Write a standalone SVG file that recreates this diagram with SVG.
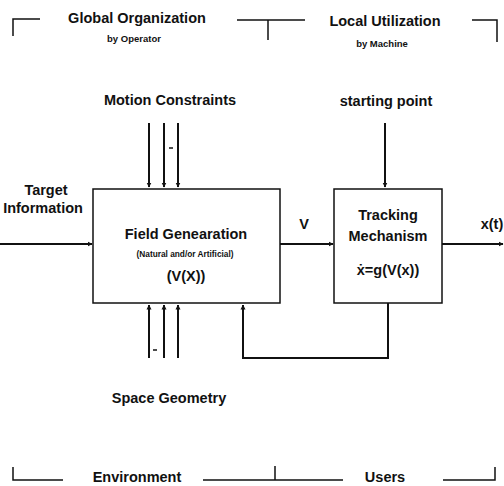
<svg xmlns="http://www.w3.org/2000/svg" width="504" height="486" viewBox="0 0 504 486">
<defs>
<marker id="ah" viewBox="0 0 10 10" refX="9" refY="5" markerWidth="5" markerHeight="6" orient="auto" markerUnits="userSpaceOnUse">
<path d="M0,0 L10,5 L0,10 z" fill="#111"/>
</marker>
<style>
text{font-family:"Liberation Sans",Arial,sans-serif;fill:#111;text-anchor:middle}
.t{font-size:14.5px;font-weight:bold}
.s{font-size:9.5px;font-weight:bold}
.xs{font-size:8.3px;font-weight:bold}
.ln{stroke:#111;stroke-width:1.5;fill:none}
.bx{stroke:#111;stroke-width:1.5;fill:#fff}
.ar{stroke:#111;stroke-width:2;fill:none}
</style>
</defs>
<rect width="504" height="486" fill="#fff"/>
<g id="frame">
<path class="ln" d="M13,36 V19 H40"/>
<path class="ln" d="M237,20 H305 M268,20 V40"/>
<path class="ln" d="M472,20 H497 V42"/>
<path class="ln" d="M13,467 V480 H63"/>
<path class="ln" d="M203,480 H343 M275,466 V480"/>
<path class="ln" d="M443,480 H495 V467"/>
<text class="t" x="137" y="23">Global Organization</text>
<text class="s" x="134" y="42">by Operator</text>
<text class="t" x="385" y="26">Local Utilization</text>
<text class="s" x="382" y="47">by Machine</text>
<text class="t" x="137" y="482">Environment</text>
<text class="t" x="385" y="482">Users</text>
</g>
<g id="field">
<rect class="bx" x="93" y="189" width="187" height="114"/>
<text class="t" x="186" y="239">Field Genearation</text>
<text class="xs" x="185" y="257">(Natural and/or Artificial)</text>
<text class="t" x="186" y="281">(V(X))</text>
</g>
<g id="tracking">
<rect class="bx" x="334" y="189" width="108" height="114"/>
<text class="t" x="388" y="220">Tracking</text>
<text class="t" x="388" y="241">Mechanism</text>
<text class="t" x="388" y="275">ẋ=g(V(x))</text>
</g>
<g id="labels">
<text class="t" x="46" y="195">Target</text>
<text class="t" x="43" y="213">Information</text>
<text class="t" x="170" y="105">Motion Constraints</text>
<text class="t" x="386" y="106">starting point</text>
<text class="t" x="169" y="403">Space Geometry</text>
<text class="t" x="304" y="229">V</text>
<text class="t" x="492" y="229">x(t)</text>
</g>
<g id="connectors">
<path class="ar" d="M0,244 H92" marker-end="url(#ah)"/>
<path class="ar" d="M280,244 H333" marker-end="url(#ah)"/>
<path class="ar" d="M442,244 H503" marker-end="url(#ah)"/>
<path class="ar" d="M149,123 V187" marker-end="url(#ah)"/>
<path class="ar" d="M164,123 V187" marker-end="url(#ah)"/>
<path class="ar" d="M178,123 V187" marker-end="url(#ah)"/>
<path class="ln" d="M169,148 H173" stroke-width="1"/>
<path class="ar" d="M385,123 V187" marker-end="url(#ah)"/>
<path class="ar" d="M149,358 V305" marker-end="url(#ah)"/>
<path class="ar" d="M164,358 V305" marker-end="url(#ah)"/>
<path class="ar" d="M178,358 V305" marker-end="url(#ah)"/>
<path class="ln" d="M153,350 H157" stroke-width="1"/>
<path class="ar" d="M388,303 V358 H243 V305" marker-end="url(#ah)"/>
</g>
</svg>
